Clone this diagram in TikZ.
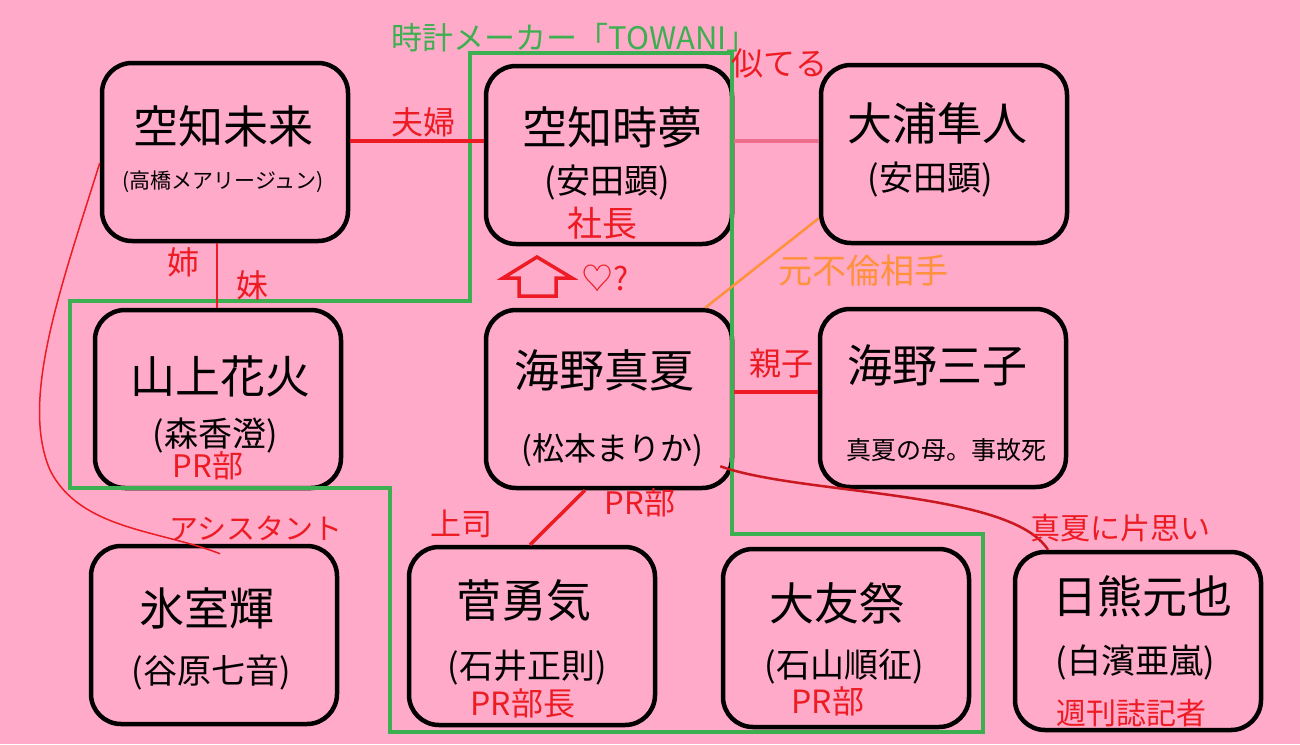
\documentclass[tikz,border=0pt]{standalone}
\usepackage{fontspec}
\setmainfont{Noto Sans CJK JP}
\usetikzlibrary{positioning, calc}
\definecolor{bgpink}{RGB}{255, 170, 200}
\definecolor{tiered}{RGB}{237, 28, 36}
\definecolor{likepink}{RGB}{236, 110, 140}
\definecolor{affairorange}{RGB}{255, 145, 60}
\definecolor{towanigreen}{RGB}{60, 175, 80}

\begin{document}
\begin{tikzpicture}[x=1pt, y=-1pt,
        person/.style={rectangle, draw, line width=4.5pt, rounded corners=30pt, inner sep=0pt, minimum width=246pt, minimum height=178pt},
        nm/.style={font=\fontsize{45}{45}\selectfont},
        cast/.style={font=\fontsize{34}{34}\selectfont},
        rel/.style={text=tiered, font=\fontsize{32}{32}\selectfont},
        tie/.style={draw=tiered, line width=3.5pt},
        thread/.style={draw=tiered, line width=1.5pt}
    ]
        \fill[bgpink] (0,0) rectangle (1300,744);
        \useasboundingbox (0,0) rectangle (1300,744);

        \node[person] (mirai) at (225,152) {};
        \node[person] (tomu) at (609,155) {};
        \node[person] (hayato) at (944,154) {};
        \node[person] (hanabi) at (218,399) {};
        \node[person] (manatsu) at (609,399) {};
        \node[person] (mitsuko) at (943,398) {};
        \node[person] (hikaru) at (214,635) {};
        \node[person] (yuki) at (532,636) {};
        \node[person] (matsuri) at (846,638) {};
        \node[person] (hikuma) at (1138,641) {};

        \draw[towanigreen, line width=3.5pt] (470,53) -- (732,53) -- (732,534) -- (983,534) -- (983,732) -- (390,732) -- (390,488) -- (70,488) -- (70,301) -- (470,301) -- cycle;
        \node[text=towanigreen, font=\fontsize{31}{31}\selectfont, anchor=west] (towani) at (388,38) {時計メーカー「TOWANI」};

        \node[nm] (miraiN) at (223,126) {空知未来};
        \node[font=\fontsize{21}{21}\selectfont] (miraiC) at (223,182) {(高橋メアリージュン)};
        \node[nm] (tomuN) at (612,127) {空知時夢};
        \node[cast] (tomuC) at (607,183) {(安田顕)};
        \node[nm] (hayatoN) at (937,123) {大浦隼人};
        \node[cast] (hayatoC) at (930,180) {(安田顕)};
        \node[nm] (hanabiN) at (220,376) {山上花火};
        \node[cast] (hanabiC) at (215,436) {(森香澄)};
        \node[nm] (manatsuN) at (604,370) {海野真夏};
        \node[font=\fontsize{32}{32}\selectfont] (manatsuC) at (612,450) {(松本まりか)};
        \node[nm] (mitsukoN) at (937,365) {海野三子};
        \node[font=\fontsize{25}{25}\selectfont] (mitsukoC) at (946,450) {真夏の母。事故死};
        \node[nm] (hikaruN) at (207,608) {氷室輝};
        \node[cast] (hikaruC) at (211,673) {(谷原七音)};
        \node[nm] (yukiN) at (524,601) {菅勇気};
        \node[cast] (yukiC) at (527,668) {(石井正則)};
        \node[nm] (matsuriN) at (837,603) {大友祭};
        \node[cast] (matsuriC) at (844,667) {(石山順征)};
        \node[nm] (hikumaN) at (1142,596) {日熊元也};
        \node[cast] (hikumaC) at (1135,662) {(白濱亜嵐)};

        \draw[tie] ([yshift=11pt]mirai.east) -- ([yshift=14pt]tomu.west);
        \draw[draw=likepink, line width=3.5pt] ([yshift=14pt]tomu.east) -- ([yshift=13pt]hayato.west);
        \draw[thread] ([xshift=-8pt]mirai.south) -- ([xshift=-1pt]hanabi.north);
        \draw[draw=affairorange, line width=2.5pt] ([yshift=27pt]hayato.south west) -- ([xshift=-29pt]manatsu.north east);
        \draw[tie] ([yshift=7pt]manatsu.east) -- ([yshift=6pt]mitsuko.west);
        \draw[tie] ([xshift=-24pt]manatsu.south) -- ([xshift=-2pt]yuki.north);
        \draw[thread] ([yshift=-11pt]mirai.west) .. controls (60,290) and (20,400) .. (50,470) .. controls (80,530) and (160,530) .. ([xshift=6pt,yshift=-10pt]hikaru.north);
        \draw[draw=tiered!85!black, line width=2.5pt] ([xshift=-14pt,yshift=24pt]manatsu.south east) .. controls (800,495) and (1010,490) .. ([xshift=-90pt]hikuma.north);

        \draw[tiered, line width=3.5pt] (537,257) -- (572,278) -- (556,278) -- (556,296) -- (519,296) -- (519,278) -- (503,278) -- cycle;

        \node[rel] (fuufu) at (423,122) {夫婦};
        \node[rel] (niteru) at (779,64) {似てる};
        \node[rel, font=\fontsize{35}{35}\selectfont] (shachou) at (602,223) {社長};
        \node[rel] (ane) at (183,262) {姉};
        \node[rel] (imouto) at (252,285) {妹};
        \node[rel, text=affairorange, font=\fontsize{34}{34}\selectfont] (furin) at (863,271) {元不倫相手};
        \node[rel] (heart) at (605,278) {♡?};
        \node[rel] (oyako) at (781,363) {親子};
        \node[rel, font=\fontsize{31}{31}\selectfont] (hanabiR) at (208,466) {PR部};
        \node[rel, font=\fontsize{29}{29}\selectfont] (assistant) at (256,528) {アシスタント};
        \node[rel, font=\fontsize{31}{31}\selectfont] (joushi) at (461,524) {上司};
        \node[rel, font=\fontsize{31}{31}\selectfont] (manatsuR) at (640,503) {PR部};
        \node[rel] (yukiR) at (523,703) {PR部長};
        \node[rel] (matsuriR) at (828,701) {PR部};
        \node[rel, font=\fontsize{30}{30}\selectfont] (kataomoi) at (1120,528) {真夏に片思い};
        \node[rel, font=\fontsize{30}{30}\selectfont] (kisha) at (1131,713) {週刊誌記者};
    \end{tikzpicture}
\end{document}
